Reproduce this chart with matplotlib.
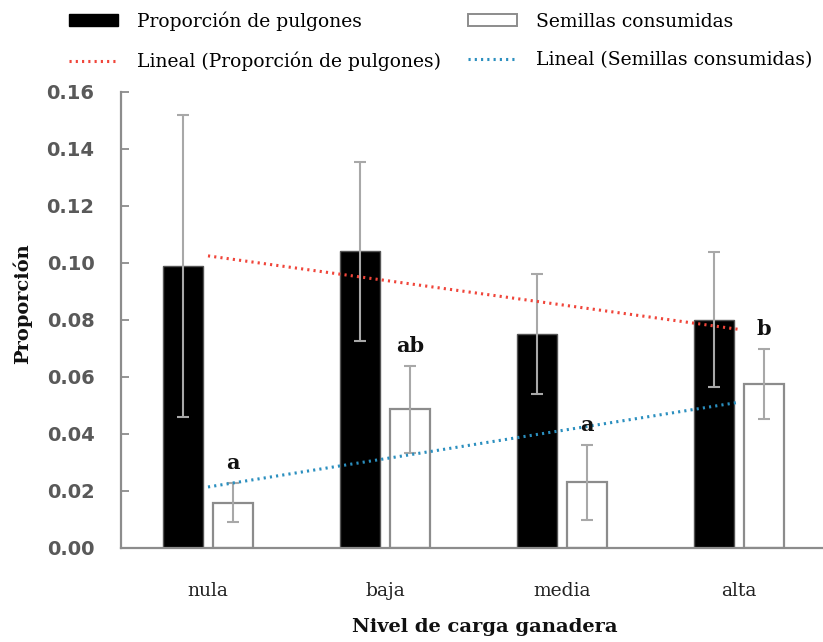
import matplotlib
matplotlib.use("Agg")
import matplotlib.pyplot as plt
import numpy as np
from matplotlib.patches import Patch
from matplotlib.lines import Line2D

# Data
categories = ["nula", "baja", "media", "alta"]
pulgones = [0.099, 0.104, 0.075, 0.080]
pulgones_err = [0.053, 0.0315, 0.021, 0.0236]
semillas = [0.0158, 0.0486, 0.0229, 0.0574]
semillas_err = [0.0069, 0.0152, 0.0132, 0.0122]
letras = ["a", "ab", "a", "b"]
yticks = [0.00, 0.02, 0.04, 0.06, 0.08, 0.10, 0.12, 0.14, 0.16]

SERIF = "DejaVu Serif"
RED = "#f0453a"
BLUE = "#2b8fbf"
EDGE = "#8c8c8c"
ERR = "#a8a8a8"

fig = plt.figure(figsize=(8.23, 6.42), dpi=100)
ax = fig.add_axes([121 / 823, 1 - 547.7 / 642, 1 - 121 / 823, (547.7 - 91.7) / 642])

x = np.arange(len(categories))
w = 0.228
off = 0.143

ax.bar(x - off, pulgones, w, color="black", edgecolor="#555555", linewidth=1.0, zorder=2)
ax.bar(x + off, semillas, w, color="white", edgecolor=EDGE, linewidth=1.6, zorder=2)

ekw = dict(fmt="none", ecolor=ERR, elinewidth=1.5, capsize=4, capthick=1.5, zorder=3)
ax.errorbar(x - off, pulgones, yerr=pulgones_err, **ekw)
ax.errorbar(x + off, semillas, yerr=semillas_err, **ekw)

# Linear trend lines across the four levels
xt = np.array([x[0], x[-1]])
p1 = np.polyfit(x, pulgones, 1)
p2 = np.polyfit(x, semillas, 1)
dots = (0, (0.7, 1.35))
LW = 2.2
ax.plot(xt, np.polyval(p1, xt), color=RED, lw=LW, linestyle=dots, zorder=4)
ax.plot(xt, np.polyval(p2, xt), color=BLUE, lw=LW, linestyle=dots, zorder=4)

# Significance letters above the seed bars
for xi, v, e, t in zip(x, semillas, semillas_err, letras):
    ax.text(xi + off, v + e + 0.0035, t, ha="center", va="bottom",
            fontsize=15, fontweight="bold", family=SERIF, color="#111111", zorder=5)

ax.set_xlim(-0.4915, 3.4746)
ax.set_ylim(0, 0.16)
ax.set_yticks(yticks)
ax.set_yticklabels([f"{t:.2f}" for t in yticks], fontsize=14, fontweight="bold",
                   family="DejaVu Sans", color="#595959")
ax.set_xticks(x)
ax.set_xticklabels(categories, fontsize=13.5, family=SERIF, color="#222222")
ax.tick_params(axis="x", length=0, pad=25)
ax.tick_params(axis="y", direction="in", length=6, width=1.3, color=EDGE, pad=19)

for s in ["top", "right"]:
    ax.spines[s].set_visible(False)
for s in ["left", "bottom"]:
    ax.spines[s].set_color(EDGE)
    ax.spines[s].set_linewidth(1.6)

fig.text(22 / 823, 1 - 304 / 642, "Proporción", rotation=90, ha="center", va="center",
         fontsize=14, fontweight="bold", family=SERIF, color="#111111")
fig.text(485 / 823, 1 - 627 / 642, "Nivel de carga ganadera", ha="center", va="center",
         fontsize=14, fontweight="bold", family=SERIF, color="#111111")

handles = [
    Patch(facecolor="black", edgecolor="black"),
    Line2D([0], [0], color=RED, lw=LW, linestyle=dots),
    Patch(facecolor="white", edgecolor=EDGE, linewidth=1.4),
    Line2D([0], [0], color=BLUE, lw=LW, linestyle=dots),
]
labels = ["Proporción de pulgones", "Lineal (Proporción de pulgones)",
          "Semillas consumidas", "Lineal (Semillas consumidas)"]
fig.legend(handles, labels, ncol=2, loc="upper left",
           bbox_to_anchor=(58 / 823, 1.0), frameon=False,
           prop={"family": SERIF, "size": 13.5},
           handlelength=2.6, handleheight=0.6, handletextpad=1.0,
           columnspacing=1.47, labelspacing=1.1, borderpad=0.1)

fig.savefig("out.png", dpi=100)
